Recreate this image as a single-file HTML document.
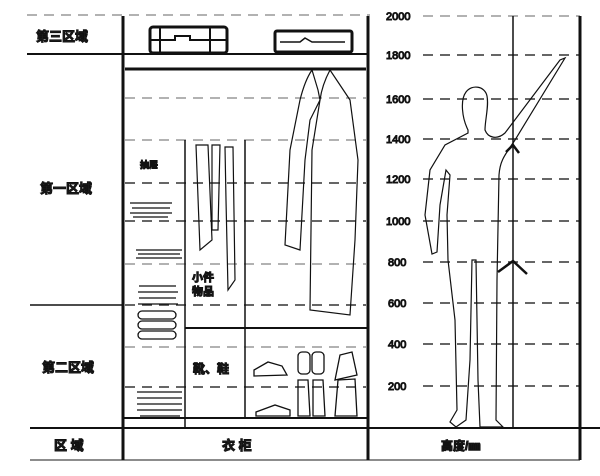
<!DOCTYPE html>
<html><head><meta charset="utf-8"><style>
html,body{margin:0;padding:0;background:#fff}
svg{display:block}
text{font-family:"Liberation Sans","Noto Sans CJK SC",sans-serif;font-weight:bold;fill:#222}
</style></head><body>
<svg width="600" height="476" viewBox="0 0 600 476" xmlns="http://www.w3.org/2000/svg">
<g stroke="#999" stroke-width="1.5" stroke-dasharray="10,7" fill="none">
<line x1="27" y1="15" x2="370" y2="15"/>
<line x1="423" y1="16" x2="580" y2="16"/>
<line x1="125" y1="98" x2="366" y2="98"/>
<line x1="125" y1="140" x2="366" y2="140"/>
<line x1="125" y1="264" x2="366" y2="264"/>
<line x1="125" y1="347" x2="366" y2="347"/>
</g>
<g stroke="#333" stroke-width="1.5" stroke-dasharray="10,7" fill="none">
<line x1="125" y1="183" x2="366" y2="183"/>
<line x1="125" y1="221" x2="366" y2="221"/>
<line x1="125" y1="305" x2="366" y2="305"/>
<line x1="125" y1="387" x2="366" y2="387"/>
<line x1="423" y1="55" x2="580" y2="55"/>
<line x1="423" y1="99" x2="580" y2="99"/>
<line x1="423" y1="139" x2="580" y2="139"/>
<line x1="423" y1="179" x2="580" y2="179"/>
<line x1="423" y1="221" x2="580" y2="221"/>
<line x1="423" y1="262" x2="580" y2="262"/>
<line x1="423" y1="303" x2="580" y2="303"/>
<line x1="423" y1="344" x2="580" y2="344"/>
<line x1="423" y1="386" x2="580" y2="386"/>
</g>
<g stroke="#111" fill="none">
<line x1="27" y1="54" x2="368" y2="54" stroke-width="2"/>
<line x1="30" y1="305" x2="123" y2="305" stroke-width="1.5"/>
<line x1="30" y1="428" x2="600" y2="428" stroke-width="2"/>
<line x1="30" y1="460" x2="580" y2="460" stroke-width="1.5" stroke="#666"/>
<line x1="123" y1="16" x2="123" y2="460" stroke-width="3"/>
<line x1="368" y1="16" x2="368" y2="460" stroke-width="3"/>
<line x1="580" y1="16" x2="580" y2="460" stroke-width="3"/>
<line x1="513" y1="16" x2="513" y2="428" stroke-width="1.5"/>
<line x1="125" y1="69" x2="366" y2="69" stroke-width="3"/>
<line x1="185" y1="140" x2="185" y2="428" stroke-width="1.5"/>
<line x1="245" y1="140" x2="245" y2="418" stroke-width="1.5"/>
<line x1="185" y1="328" x2="368" y2="328" stroke-width="2"/>
<line x1="123" y1="418" x2="368" y2="418" stroke-width="2"/>
<rect x="150" y="27" width="77" height="26" stroke-width="3" rx="3"/>
<line x1="160" y1="27" x2="160" y2="53" stroke-width="2"/><line x1="210" y1="27" x2="210" y2="53" stroke-width="2"/>
<path d="M150 40 H175 V36 H190 V40 H227" stroke-width="2"/>
<rect x="275" y="31" width="77" height="21" stroke-width="3" rx="2"/>
<path d="M280 42 H300 L305 38 L312 42 H345" stroke-width="1.5"/>
<path d="M312 70 Q305 80 300 100 L290 150 L285 245 L300 250 L305 160 L310 120 L320 100 L318 90 Z" stroke-width="1.2"/>
<path d="M330 70 Q322 85 320 100 L312 150 L310 310 L350 315 L355 240 L358 160 L350 100 L340 85 Z" stroke-width="1.2"/>
<path d="M196 145 L208 145 L212 240 L200 250 Z" stroke-width="1.2"/>
<path d="M212 145 L220 145 L218 230 L212 230 Z" stroke-width="1.2"/>
<path d="M225 147 L233 147 L235 280 L228 290 L226 200 Z" stroke-width="1.2"/>
<g stroke-width="1.3">
<path d="M130 203 H172 M132 208 H170 M130 213 H172 M133 217 H168"/>
<path d="M136 250 H182 M138 254 H180 M136 258 H182"/>
<path d="M139 286 H176 M138 292 H178 M139 298 H176 M138 304 H178"/>
<rect x="138" y="311" width="38" height="8" rx="4"/><rect x="138" y="321" width="38" height="8" rx="4"/><rect x="138" y="331" width="38" height="8" rx="4"/>
<path d="M137 392 H182 M137 398 H182 M137 404 H182 M137 410 H182 M140 416 H180"/>
<path d="M254 370 L268 362 L282 366 L287 375 L254 376 Z"/>
<path d="M256 412 L275 405 L290 410 L290 416 L256 416 Z"/>
<rect x="298" y="352" width="12" height="22" rx="4"/><rect x="312" y="352" width="12" height="22" rx="4"/>
<path d="M335 380 L340 355 L352 352 L357 375 L335 380 Z"/>
<path d="M298 380 L308 380 L310 416 L298 416 Z M313 380 L323 380 L325 416 L313 416 Z"/>
<path d="M338 380 L355 379 L357 416 L335 416 Z"/>
<path d="M468 130 C462 118 460 100 466 92 C472 84 485 86 487 96 C489 106 485 120 485 130 C488 138 497 140 505 133 L560 60 L565 58 L515 140 C505 155 500 160 499 175 L497 280 L496 420 L503 427 L480 427 L478 380 L476 260 L472 260 L470 360 L466 420 L456 427 L450 422 L457 410 L455 320 L448 260 L447 215 L450 175 L446 170 L440 205 L437 252 L432 254 L425 215 L430 170 L445 145 L468 133 Z" stroke-width="1.2"/>
<path d="M506 152 L513 145 L519 153" stroke-width="2.5"/>
<path d="M498 272 L513 261 L527 274" stroke-width="2.5"/>
</g>
<g font-size="13">
<text x="36" y="41">第三区域</text>
<text x="40" y="193">第一区域</text>
<text x="42" y="372">第二区域</text>
<text x="54" y="450">区  域</text>
<text x="222" y="450">衣     柜</text>
<text x="441" y="450" font-size="12">高度/㎜</text>
<text x="193" y="373" font-size="12">靴、鞋</text>
<text x="192" y="281" font-size="11">小件</text>
<text x="192" y="295" font-size="11">物品</text>
<text x="140" y="168" font-size="9">抽屉</text>
</g>
<g font-size="11" style="font-weight:normal">
<text x="386" y="20" style="font-weight:normal">2000</text>
<text x="386" y="59" style="font-weight:normal">1800</text>
<text x="386" y="103" style="font-weight:normal">1600</text>
<text x="386" y="143" style="font-weight:normal">1400</text>
<text x="386" y="183" style="font-weight:normal">1200</text>
<text x="386" y="225" style="font-weight:normal">1000</text>
<text x="388" y="266" style="font-weight:normal">800</text>
<text x="388" y="307" style="font-weight:normal">600</text>
<text x="388" y="348" style="font-weight:normal">400</text>
<text x="388" y="390" style="font-weight:normal">200</text>
</g>
</svg>
</body></html>
